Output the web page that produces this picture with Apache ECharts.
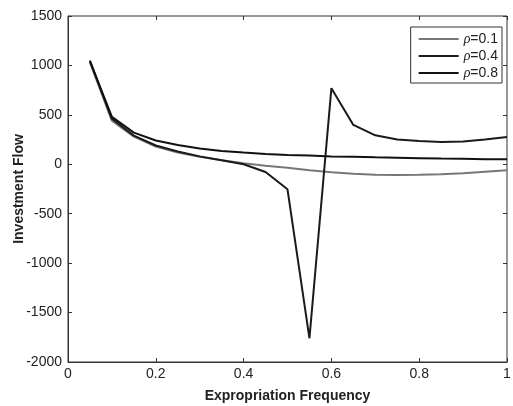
<!DOCTYPE html>
<html>
<head>
<meta charset="utf-8">
<script src="https://cdn.jsdelivr.net/npm/echarts@6/dist/echarts.min.js"></script>
<style>html,body{margin:0;padding:0;background:#fff}#c{width:513px;height:406px}</style>
</head>
<body>
<div id="c"></div>
<script>
// expropriation frequency
var freq = [0.05, 0.1, 0.15, 0.2, 0.25, 0.3, 0.35, 0.4, 0.45, 0.5, 0.55, 0.6, 0.65, 0.7, 0.75, 0.8, 0.85, 0.9, 0.95, 1.0];
var rho01 = [1030, 440, 280, 180, 120, 75, 40, 10, -15, -35, -60, -80, -95, -105, -108, -105, -100, -90, -75, -60];
var rho04 = [1050, 460, 290, 190, 130, 80, 40, 0, -78, -253, -1760, 770, 398, 293, 250, 235, 225, 230, 250, 276];
var rho08 = [1040, 480, 320, 240, 195, 160, 135, 118, 105, 95, 88, 80, 75, 70, 66, 62, 58, 55, 52, 50];
var names = ["ρ=0.1", "ρ=0.4", "ρ=0.8"];
var colors = ["#777777", "#1a1a1a", "#111111"];

function pairs(v) { return freq.map(function(x, i) { return [x, v[i]] }) }

var chart = echarts.init(document.getElementById("c"))
var font = "Liberation Sans, Arial, sans-serif"
var hiddenAxis = {axisLabel: {show: false}, axisLine: {show: false, onZero: false}, splitLine: {show: false},
    axisTick: {inside: true, length: 4, lineStyle: {color: "#333"}}}

chart.setOption({
    animation: false,
    grid: {left: 68, right: 6, top: 16, bottom: 44, outerBoundsMode: "none", containLabel: false,
        show: true, borderColor: "#333", borderWidth: 1},
    legend: {
        orient: "vertical", right: 11, top: 27, itemWidth: 40, itemHeight: 2, itemGap: 3,
        padding: [5, 4, 3, 8], borderColor: "#333", borderWidth: 1, backgroundColor: "#fff",
        icon: "rect",
        data: names,
        formatter: function(n) { return "{i|ρ}{t|" + n.slice(1) + "}" },
        textStyle: {rich: {
            i: {fontStyle: "italic", fontFamily: "Liberation Serif, serif", fontSize: 14, color: "#222", height: 13},
            t: {fontFamily: font, fontSize: 14, color: "#222", height: 13}
        }}
    },
    xAxis: [{
        type: "value", min: 0, max: 1, interval: 0.2,
        name: "Expropriation Frequency", nameLocation: "middle", nameGap: 27,
        nameTextStyle: {fontFamily: font, fontWeight: "bold", fontSize: 14, color: "#222"},
        axisLine: {onZero: false, lineStyle: {color: "#333"}},
        axisTick: {inside: true, length: 4, lineStyle: {color: "#333"}},
        axisLabel: {fontFamily: font, fontSize: 14, color: "#222", margin: 5},
        splitLine: {show: false}
    }, Object.assign({type: "value", min: 0, max: 1, interval: 0.2, position: "top"}, hiddenAxis)],
    yAxis: [{
        type: "value", min: -2000, max: 1500, interval: 500,
        name: "Investment Flow", nameLocation: "middle", nameGap: 42, nameMoveOverlap: false,
        nameTextStyle: {fontFamily: font, fontWeight: "bold", fontSize: 14, color: "#222"},
        axisLine: {show: true, onZero: false, lineStyle: {color: "#333"}},
        axisTick: {inside: true, length: 4, lineStyle: {color: "#333"}},
        axisLabel: {fontFamily: font, fontSize: 14, color: "#222", margin: 6,
            formatter: function(v) { return String(v) }},
        splitLine: {show: false}
    }, Object.assign({type: "value", min: -2000, max: 1500, interval: 500, position: "right"}, hiddenAxis)],
    series: [rho01, rho04, rho08].map(function(v, i) {
        return {
            name: names[i], type: "line", data: pairs(v), showSymbol: false, symbol: "none",
            lineStyle: {width: 2, color: colors[i]}, itemStyle: {color: colors[i]}
        }
    })
})
</script>
</body>
</html>
